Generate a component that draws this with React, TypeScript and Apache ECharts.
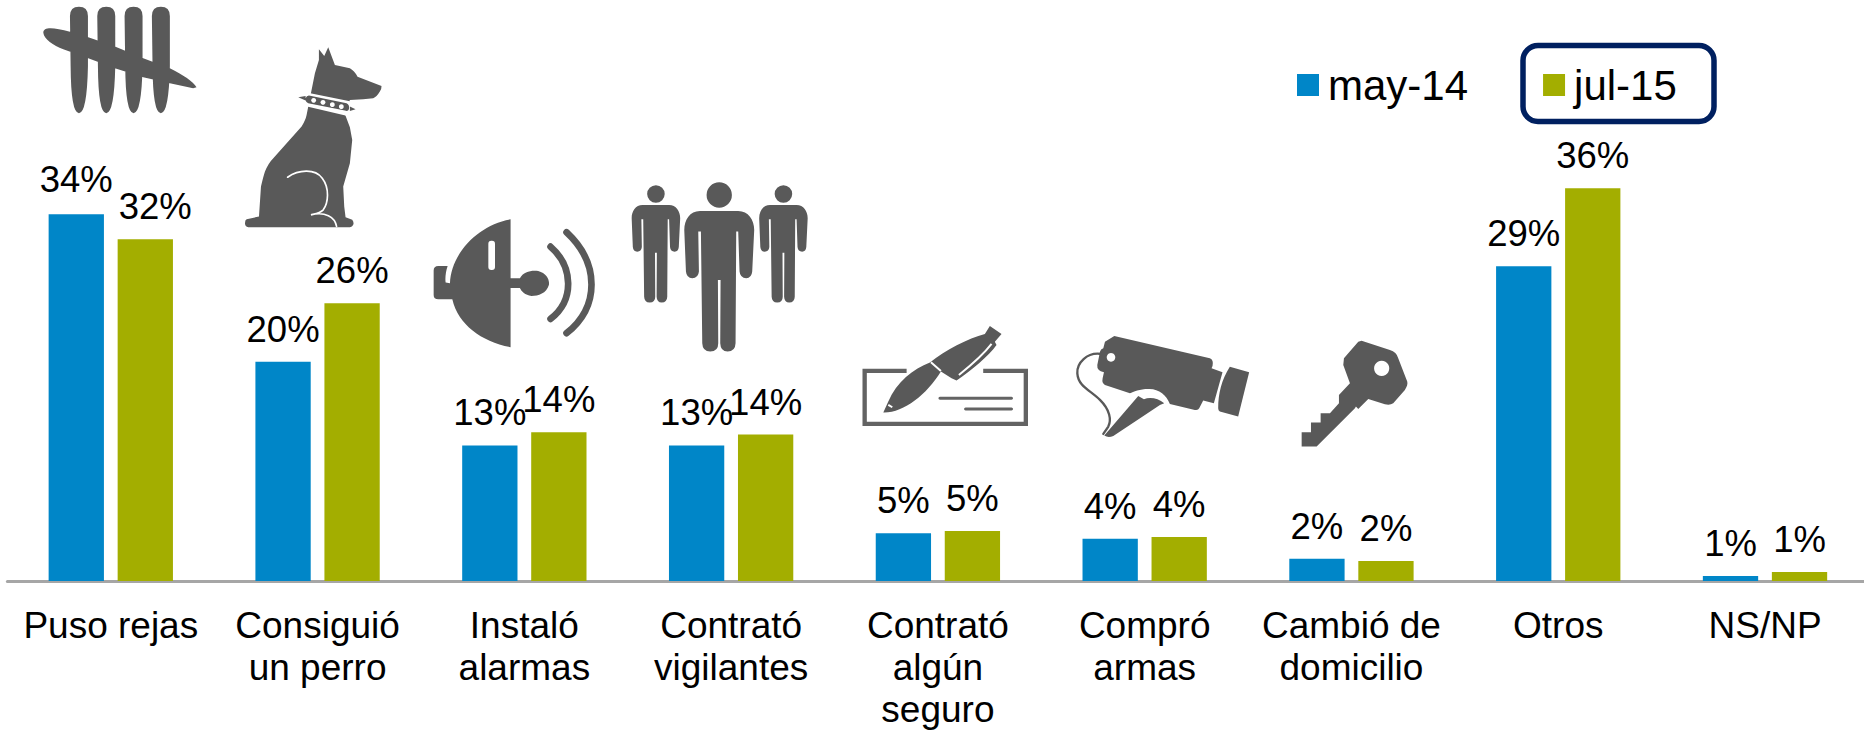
import React, { useEffect, useRef } from "react";
import * as echarts from "echarts";

const categories = ["Puso rejas", "Consiguió\nun perro", "Instaló\nalarmas", "Contrató\nvigilantes", "Contrató\nalgún\nseguro", "Compró\narmas", "Cambió de\ndomicilio", "Otros", "NS/NP"];
const may14 = [33.8, 20.2, 12.5, 12.5, 4.4, 3.9, 2.05, 29.0, 0.46];
const jul15 = [31.5, 25.6, 13.7, 13.5, 4.6, 4.05, 1.85, 36.2, 0.83];
const may14Labels = ["34%", "20%", "13%", "13%", "5%", "4%", "2%", "29%", "1%"];
const jul15Labels = ["32%", "26%", "14%", "14%", "5%", "4%", "2%", "36%", "1%"];

const GREY = "#595959";
const FONT = '"Liberation Sans", Arial, sans-serif';

const tallyStroke = (c: number) =>
  `M${c - 27} 48 Q${c - 27} 20 ${c} 20 Q${c + 27} 20 ${c + 27} 48 L${c + 27} 200 Q${c + 24} 340 ${c} 340 Q${c - 24} 340 ${c - 25} 200 Z `;

const shapes: Record<string, string> = {
  tally:
    tallyStroke(147) + tallyStroke(229) + tallyStroke(311) + tallyStroke(393) +
    "M40 98 C40 80 70 82 120 95 L175 112 L255 140 L340 175 L420 205 C460 225 490 245 500 262 L490 265 L420 250 L340 232 L255 205 L175 175 L100 148 C70 135 42 118 40 98 Z",
  dog:
    "M252 28 L268 48 L280 22 L300 75 L345 85 Q358 92 368 110 L440 138 Q440 150 435 155 Q425 172 415 175 L385 178 L345 180 L330 222 L345 262 L352 300 L345 370 L325 440 L328 500 L332 532 L352 540 Q358 548 355 555 Q352 562 345 562 L40 562 Q30 560 30 550 Q30 540 35 538 L72 530 L78 440 Q85 410 90 395 Q100 370 115 355 L200 260 Q212 240 215 225 L222 190 L228 160 L240 100 L252 60 Z",
  dogCollarGap: "M215 158 L345 184 L338 228 L210 198 Z",
  dogCollar:
    "M222 167 L335 190 Q345 195 342 208 Q340 215 330 212 L220 190 Q210 185 212 175 Q215 167 222 167 Z M190 172 L212 168 L212 182 Z M362 208 L345 200 L345 213 Z",
  dogLine: "M158 412 C190 390 240 385 262 415 C285 445 280 490 265 510 C255 520 240 522 228 525 C270 515 300 530 305 560",
  horn:
    "M257 28 L257 205 L285 205 C295 185 320 180 340 183 C365 190 375 210 372 225 C365 250 340 258 320 258 C300 255 290 245 285 234 L257 234 L257 412 C170 395 100 345 82 268 L40 268 Q26 268 26 255 L26 182 Q26 168 40 168 L68 168 C62 185 60 205 62 218 L75 220 C78 130 160 45 257 28 Z",
  hornWaves: "M377 110 C445 170 450 270 377 327 M425 67 C525 160 525 290 425 370",
  person:
    "M245 60 a38 38 0 1 0 76 0 a38 38 0 1 0 -76 0 Z M225 108 L340 108 C370 108 388 135 388 165 L382 290 Q380 310 364 310 Q346 310 344 290 L340 170 L334 170 L332 505 Q331 530 308 530 Q287 530 286 505 L287 315 L279 315 L280 505 Q280 530 256 530 Q233 530 232 505 L228 170 L220 170 L222 290 Q220 310 202 310 Q185 310 183 290 L178 165 C178 135 195 108 225 108 Z",
  checkFrame: "M155 153 L29 153 L29 312 L513 312 L513 153 L385 153",
  checkLines: "M255 235 L470 235 M332 267 L470 267",
  pen:
    "M85 278 L100 245 C125 187 175 147 225 128 C270 90 340 55 390 42 L405 18 L440 42 L420 65 L425 75 C400 110 350 150 305 182 L290 175 L258 155 C215 225 145 280 85 278 Z",
  penWhite: "M228 127 L258 153 M312 165 C350 135 385 105 410 72 M100 255 L112 262",
  camera:
    "M105 5 L133 -12 L420 55 Q432 60 428 78 L425 85 L458 97 L432 190 L400 182 L388 205 Q385 212 375 210 L300 192 C290 165 265 145 235 147 C210 147 190 155 180 160 L105 135 Q95 130 98 115 L102 97 Q80 92 82 75 L90 35 Q92 28 100 25 Z M480 80 L538 97 L505 230 L450 215 Q445 212 445 205 C445 160 455 120 480 80 Z M205 168 L222 178 C240 170 265 175 283 190 L270 195 L225 225 L130 288 Q115 295 103 287 Z",
  cable: "M95 42 C50 35 20 70 22 100 C25 140 60 150 90 180 C120 210 125 240 115 260 L100 282",
  key:
    "M215 17 L300 45 Q320 50 325 70 L352 140 Q355 150 345 165 L310 205 Q300 212 285 208 L235 192 L205 222 L198 215 L195 220 L80 335 L35 335 L35 292 L63 292 L63 263 L92 263 L92 235 L120 235 L147 205 L147 180 L180 145 L160 90 L162 70 L205 20 Z",
};
Object.keys(shapes).forEach((k) => {
  echarts.graphic.registerShape(k, echarts.graphic.extendPath(shapes[k] as any, {}) as any);
});

const at = (type: string, x: number, y: number, style: any, s = 1 / 3) => ({ type, x, y, scaleX: s, scaleY: s, silent: true, style, z: 10 });
const fill = { fill: GREY };
const line = (color: string, width: number, cap = "round") => ({ fill: "none", stroke: color, lineWidth: width, lineCap: cap });
const dot = (cx: number, cy: number, r: number) => ({ type: "circle", shape: { cx, cy, r }, style: { fill: "#fff" }, silent: true, z: 11 });

const smallS = 0.692 / 3;
const graphics: any[] = [
  at("tally", 30, 0, fill),
  at("dog", 235, 40, fill),
  at("dogCollarGap", 235, 40, { fill: "#fff" }),
  at("dogCollar", 235, 40, fill),
  at("dogLine", 235, 40, line("#fff", 5)),
  dot(235 + 236 / 3, 40 + 181 / 3, 2.4),
  dot(235 + 264 / 3, 40 + 187 / 3, 2.4),
  dot(235 + 292 / 3, 40 + 194 / 3, 2.4),
  dot(235 + 319 / 3, 40 + 200 / 3, 2.4),
  at("horn", 425, 210, fill),
  at("hornWaves", 425, 210, line(GREY, 20)),
  { type: "rect", shape: { x: 425 + 190 / 3, y: 210 + 92 / 3, width: 20 / 3, height: 88 / 3, r: 3 }, style: { fill: "#fff" }, silent: true, z: 11 },
  at("person", 625, 175, fill),
  at("person", 625 + (92.5 - 283 * 0.692) / 3, 175 + (90 - 108 * 0.692) / 3, fill, smallS),
  at("person", 625 + (475 - 283 * 0.692) / 3, 175 + (90 - 108 * 0.692) / 3, fill, smallS),
  at("checkFrame", 855, 320, line("#636363", 13, "butt")),
  at("checkLines", 855, 320, line("#636363", 9)),
  at("pen", 855, 320, fill),
  at("penWhite", 855, 320, line("#fff", 6, "butt")),
  at("camera", 1070, 340, fill),
  at("cable", 1070, 340, line(GREY, 7)),
  dot(1070 + 123 / 3, 340 + 52 / 3, 4.3),
  at("key", 1290, 335, fill),
  dot(1290 + 275 / 3, 335 + 100 / 3, 7.6),
  { type: "rect", shape: { x: 1523, y: 45.5, width: 191, height: 76, r: 15 }, style: { fill: "none", stroke: "#002060", lineWidth: 5.5 }, silent: true, z: 1 },
];

const julOffsets: Record<number, number[]> = { 0: [10, 0] };
const mayOffsets: Record<number, number[]> = { 0: [0, -2] };
const withOffsets = (values: number[], offsets: Record<number, number[]>) =>
  values.map((value, i) => (offsets[i] ? { value, label: { offset: offsets[i] } } : value));

export default function App() {
  const ref = useRef<HTMLDivElement>(null);
  useEffect(() => {
    document.body.style.margin = "0";
    const chart = echarts.init(ref.current!, undefined, { renderer: "svg" });
    const label = (names: string[]) => ({
      show: true,
      position: "top",
      distance: 14,
      color: "#000",
      fontFamily: FONT,
      fontSize: 36.5,
      formatter: (p: any) => names[p.dataIndex],
    });
    chart.setOption({
      animation: false,
      backgroundColor: "#fff",
      grid: { left: 7.4, top: 147, width: 1861, height: 434, outerBoundsMode: "none" },
      legend: {
        left: 1297,
        top: 64,
        padding: 0,
        icon: "rect",
        itemWidth: 22,
        itemHeight: 22,
        itemGap: 75,
        textStyle: { fontFamily: FONT, fontSize: 42, color: "#000", padding: [0, 0, 0, 4] },
        data: ["may-14", "jul-15"],
      },
      xAxis: {
        type: "category",
        data: categories,
        axisTick: { show: false },
        axisLine: { lineStyle: { color: "#A6A6A6", width: 3 } },
        axisLabel: { interval: 0, margin: 23, color: "#000", fontFamily: FONT, fontSize: 37, lineHeight: 42 },
      },
      yAxis: { type: "value", min: 0, max: 40, show: false, splitLine: { show: false } },
      series: [
        { name: "may-14", type: "bar", data: withOffsets(may14, mayOffsets), barWidth: 55.3, barGap: "24.8%", itemStyle: { color: "#0086C8" }, label: label(may14Labels) },
        { name: "jul-15", type: "bar", data: withOffsets(jul15, julOffsets), barWidth: 55.3, itemStyle: { color: "#A3AE00" }, label: label(jul15Labels) },
      ],
      graphic: { elements: graphics },
    });
    return () => chart.dispose();
  }, []);
  return <div ref={ref} style={{ width: 1864, height: 731 }} />;
}
